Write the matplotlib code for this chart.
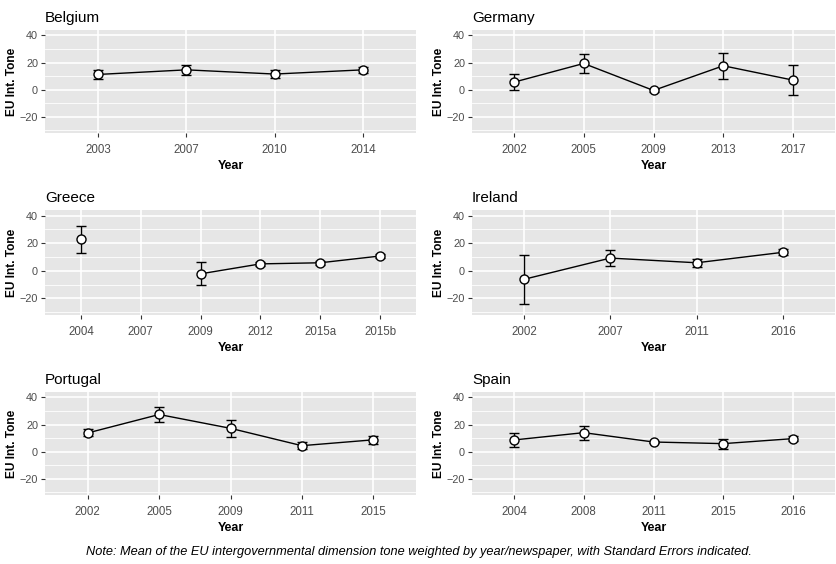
import numpy as np
import matplotlib
matplotlib.use("Agg")
import matplotlib.pyplot as plt

plt.rcParams['font.family'] = ['Liberation Sans', 'DejaVu Sans']

# data (mean tone, standard error)
countries = ['Belgium', 'Germany', 'Greece', 'Ireland', 'Portugal', 'Spain']

belgium_years = ['2003', '2007', '2010', '2014']
belgium_mean = [11.2, 14.6, 11.5, 14.6]
belgium_se = [3.0, 3.7, 3.0, 2.0]

germany_years = ['2002', '2005', '2009', '2013', '2017']
germany_mean = [5.5, 19.3, -0.6, 17.6, 7.0]
germany_se = [5.8, 7.0, 0.8, 9.6, 11.0]

greece_years = ['2004', '2007', '2009', '2012', '2015a', '2015b']
greece_mean = [22.8, np.nan, -2.2, 5.0, 5.8, 10.7]
greece_se = [9.8, np.nan, 8.4, 1.5, 1.5, 1.6]

ireland_years = ['2002', '2007', '2011', '2016']
ireland_mean = [-6.2, 9.2, 5.8, 13.4]
ireland_se = [17.7, 6.0, 3.0, 2.2]

portugal_years = ['2002', '2005', '2009', '2011', '2015']
portugal_mean = [13.8, 27.4, 17.2, 4.4, 8.7]
portugal_se = [2.6, 5.2, 6.3, 2.5, 3.0]

spain_years = ['2004', '2008', '2011', '2015', '2016']
spain_mean = [8.6, 14.0, 7.1, 5.9, 9.6]
spain_se = [5.4, 5.2, 1.0, 3.7, 2.0]

all_years = [belgium_years, germany_years, greece_years, ireland_years, portugal_years, spain_years]
all_mean = [belgium_mean, germany_mean, greece_mean, ireland_mean, portugal_mean, spain_mean]
all_se = [belgium_se, germany_se, greece_se, ireland_se, portugal_se, spain_se]

W, H = 837, 564
fig = plt.figure(figsize=(W / 100, H / 100), dpi=100)

# panel boxes in pixels (left, right, top, bottom)
cols = [(45, 416), (472, 835)]
rows = [(30, 133), (210, 315), (392, 495)]

for i, name in enumerate(countries):
    l, r = cols[i % 2]
    t, b = rows[i // 2]
    ax = fig.add_axes([l / W, 1 - b / H, (r - l) / W, (b - t) / H])
    ax.set_facecolor('#E6E6E6')
    for s in ax.spines.values():
        s.set_visible(False)

    yrs = all_years[i]
    x = np.arange(len(yrs))
    m = np.array(all_mean[i], dtype=float)
    se = np.array(all_se[i], dtype=float)

    # grid
    for yv in [-30, -10, 10, 30]:
        ax.axhline(yv, color='white', lw=0.6, zorder=0)
    for yv in [-20, 0, 20, 40]:
        ax.axhline(yv, color='white', lw=1.2, zorder=0)
    for xv in x:
        ax.axvline(xv, color='white', lw=1.2, zorder=0)

    ax.plot(x, m, color='black', lw=1.0, zorder=2)
    ax.errorbar(x, m, yerr=se, fmt='none', ecolor='black', elinewidth=1.0,
                capsize=3.5, capthick=1.0, zorder=3)
    ax.plot(x, m, 'o', ms=6.5, mfc='white', mec='black', mew=1.0, zorder=4)

    ax.set_xlim(-0.6, len(yrs) - 1 + 0.6)
    ax.set_ylim(-32, 44)
    ax.set_xticks(x)
    ax.set_xticklabels(yrs)
    ax.set_yticks([-20, 0, 20, 40])
    ax.tick_params(axis='both', colors='#333333', length=3,
                   width=0.8, labelcolor='#4D4D4D')
    ax.tick_params(axis='x', pad=5, labelsize=8.3)
    ax.tick_params(axis='y', pad=2, labelsize=7.8)
    ax.set_xlabel('Year', fontsize=9, fontweight='bold', labelpad=3)
    ax.set_ylabel('EU Int. Tone', fontsize=8.6, fontweight='bold', labelpad=1)
    ax.set_title(name, loc='left', fontsize=11, pad=6)

fig.text(0.5, 1 - 552 / H,
         'Note: Mean of the EU intergovernmental dimension tone weighted by year/newspaper, with Standard Errors indicated.',
         ha='center', va='center', fontsize=9.2, style='italic')

fig.savefig('out.png', dpi=100)
